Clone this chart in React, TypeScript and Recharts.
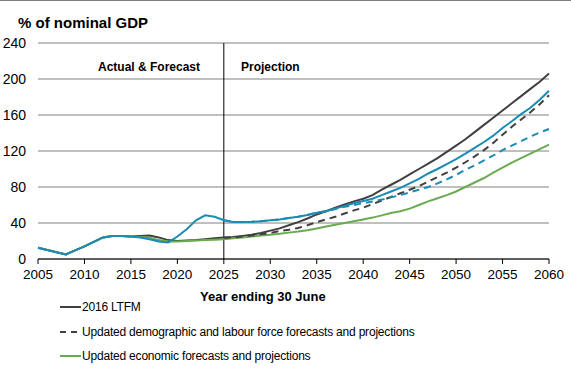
import { LineChart, Line, XAxis, YAxis, CartesianGrid, ReferenceLine } from 'recharts';

const years = Array.from({ length: 56 }, (_, i) => 2005 + i);

// 2005-2060, % of nominal GDP
const ltfm2016 = [
  12.6, 10, 7.5, 5, 9.5, 14, 19, 24, 25.5, 25.5, 25, 25.5, 26, 24, 21, 20, 20.5, 21, 22, 23,
  24, 24.5, 25.5, 27, 29, 31.5, 34, 37.5, 41, 45, 49.5, 53, 57, 60.5, 64, 67, 71, 77, 82.5, 88,
  94, 100, 106, 112, 119, 126, 133, 141, 149, 157, 165, 173, 181, 189, 197, 206,
];
const updatedEconomic = [
  12.6, 10, 7.5, 5, 9.5, 14, 19, 24, 25.5, 25.5, 25, 24.5, 23.5, 21, 19.5, 19.5, 20, 20.5, 21, 21.5,
  22, 23, 24, 25, 26, 27, 28, 29.3, 30.5, 32, 34, 36, 38, 40, 42, 44, 46, 48.5, 51, 53,
  56, 60, 64, 67.5, 71, 75, 80, 85, 90, 96, 101.5, 107, 112, 117, 122, 127,
];
const updatedDemographic = [
  null, null, null, null, null, null, null, null, null, null, null, null, null, null, null, null, null, null, null, null,
  23.5, 24, 25, 26, 27.5, 29, 31, 32.5, 34.5, 37.5, 41, 44, 47, 50.5, 54, 57, 61, 65, 69, 73,
  77, 81, 86, 91, 96, 101.5, 107.5, 114, 121, 129, 138, 147, 155, 163, 172, 182,
];
const blueSolid = [
  12.6, 10, 7.5, 5, 9.5, 14, 19, 24, 25.5, 25.5, 25, 24, 22, 19.5, 18.3, 25, 33, 43, 48.5, 47,
  43, 41.2, 41, 41.3, 42, 43, 44, 45.5, 47, 49, 51.5, 53, 56, 59, 62, 64.5, 67, 71, 75, 79,
  84, 89, 95, 100, 105.5, 111, 117, 123.5, 130, 137, 145.5, 153, 161, 168, 177, 187,
];
const blueDashed = [
  null, null, null, null, null, null, null, null, null, null, null, null, null, null, null, null, null, null, null, null,
  43, 41.2, 41, 41.3, 42, 43, 44, 45.5, 47, 49, 51.5, 53, 55.5, 58, 60, 62, 64, 66, 68.5, 71,
  74, 77, 80, 84, 88.5, 93.5, 99, 104, 109.5, 115, 121, 126, 131, 136, 140.5, 144.5,
];

const xTicks = [2005, 2010, 2015, 2020, 2025, 2030, 2035, 2040, 2045, 2050, 2055, 2060];
const yTicks = [0, 40, 80, 120, 160, 200, 240];

const legendItems = [
  { label: '2016 LTFM', color: '#404040', dash: '' },
  { label: 'Updated demographic and labour force forecasts and projections', color: '#404040', dash: '7 5' },
  { label: 'Updated economic forecasts and projections', color: '#6aaa50', dash: '' },
];

const data = years.map((year, i) => ({
  year,
  ltfm: ltfm2016[i],
  econ: updatedEconomic[i],
  demo: updatedDemographic[i],
  blue: blueSolid[i],
  blueDash: blueDashed[i],
}));

const font = 'Arial, "Liberation Sans", sans-serif';

export default function App() {
  return (
    <div style={{ position: 'absolute', left: 0, top: 0, width: 571, height: 373, background: '#fff', fontFamily: font, borderTop: '1px solid #808080', boxSizing: 'border-box' }}>
      <div style={{ position: 'absolute', left: 18, top: 13, fontSize: 15, fontWeight: 'bold', color: '#000' }}>% of nominal GDP</div>
      <div style={{ position: 'absolute', left: 0, top: -1 }}>
        <LineChart width={571} height={373} data={data} margin={{ top: 43, right: 22, left: 0, bottom: 100 }}>
          <CartesianGrid vertical={false} stroke="#808080" strokeWidth={1} />
          <XAxis
            dataKey="year"
            type="number"
            domain={[2005, 2060]}
            ticks={xTicks}
            height={14}
            stroke="#000"
            tickSize={5}
            tickMargin={5}
            tick={{ fill: '#000', fontSize: 13.5, fontFamily: font }}
            interval={0}
          />
          <YAxis
            domain={[0, 240]}
            ticks={yTicks}
            width={38}
            axisLine={false}
            tickLine={false}
            tickSize={0}
            tickMargin={12}
            tick={{ fill: '#000', fontSize: 14, fontFamily: font }}
          />
          <ReferenceLine x={2025} stroke="#000" strokeWidth={1} />
          <Line type="linear" dataKey="ltfm" stroke="#404040" strokeWidth={2} dot={false} isAnimationActive={false} />
          <Line type="linear" dataKey="econ" stroke="#6aaa50" strokeWidth={2} dot={false} isAnimationActive={false} />
          <Line type="linear" dataKey="demo" stroke="#404040" strokeWidth={2} strokeDasharray="7 5" dot={false} isAnimationActive={false} connectNulls={false} />
          <Line type="linear" dataKey="blueDash" stroke="#1a8cb4" strokeWidth={2} strokeDasharray="7 5" dot={false} isAnimationActive={false} connectNulls={false} />
          <Line type="linear" dataKey="blue" stroke="#1a8cb4" strokeWidth={2} dot={false} isAnimationActive={false} />
        </LineChart>
      </div>
      <div style={{ position: 'absolute', left: 98, top: 59, fontSize: 12, fontWeight: 'bold' }}>Actual &amp; Forecast</div>
      <div style={{ position: 'absolute', left: 241, top: 59, fontSize: 12, fontWeight: 'bold' }}>Projection</div>
      <div style={{ position: 'absolute', left: 200, top: 288, fontSize: 13, fontWeight: 'bold' }}>Year ending 30 June</div>
      {legendItems.map((item, i) => (
        <div key={item.label} style={{ position: 'absolute', left: 60, top: 298 + i * 24.5, height: 16, display: 'flex', alignItems: 'center', fontSize: 12, color: '#000', letterSpacing: -0.2 }}>
          <svg width={21} height={4} style={{ marginRight: 1 }}>
            <line x1={0} y1={2} x2={21} y2={2} stroke={item.color} strokeWidth={2} strokeDasharray={item.dash ? '6 5' : undefined} />
          </svg>
          <span>{item.label}</span>
        </div>
      ))}
    </div>
  );
}
